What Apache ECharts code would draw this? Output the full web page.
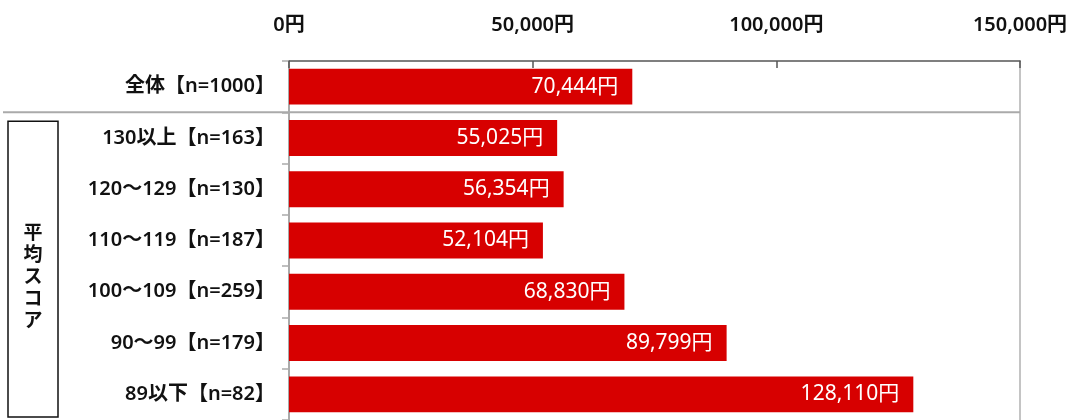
<!DOCTYPE html>
<html>
<head>
<meta charset="utf-8">
<script src="https://cdn.jsdelivr.net/npm/echarts@6/dist/echarts.min.js"></script>
<style>
html,body{margin:0;padding:0;background:#fff;}
#chart{width:1071px;height:420px;}
</style>
</head>
<body>
<div id="chart"></div>
<script>
const categories = ['全体【n=1000】','130以上【n=163】','120～129【n=130】','110～119【n=187】','100～109【n=259】','90～99【n=179】','89以下【n=82】'];
const values = [70444, 55025, 56354, 52104, 68830, 89799, 128110];
const groupLabel = '平均スコア';
const axisMax = 150000;
const axisStep = 50000;

const FONT = '"Noto Sans", "Noto Sans CJK JP", sans-serif';
const CJK = '"Noto Sans CJK JP", sans-serif';
const fmt = v => Number(v).toLocaleString('en-US') + '円';

const chart = echarts.init(document.getElementById('chart'));
chart.setOption({
  animation: false,
  grid: {left: 289, right: 51, top: 61, bottom: 0, containLabel: false},
  xAxis: {
    type: 'value', position: 'top', min: 0, max: axisMax, interval: axisStep,
    axisLine: {show: true, lineStyle: {color: '#555', width: 1.5}},
    axisTick: {show: true, inside: true, length: 7, lineStyle: {color: '#555', width: 1.5}},
    splitLine: {show: false},
    axisLabel: {formatter: fmt, margin: 26, color: '#111', fontSize: 20, fontWeight: 600, fontFamily: FONT}
  },
  yAxis: [{
    type: 'category', inverse: true, data: categories,
    axisLine: {show: true, lineStyle: {color: '#aaa', width: 2}},
    axisTick: {show: true, inside: false, length: 7, lineStyle: {color: '#aaa', width: 1.5}},
    axisLabel: {margin: 14, color: '#111', fontSize: 20, fontWeight: 600, fontFamily: FONT}
  }, {
    type: 'category', inverse: true, data: categories, position: 'right',
    axisLine: {show: true, lineStyle: {color: '#c4c4c4', width: 2}},
    axisTick: {show: false}, axisLabel: {show: false}
  }],
  series: [{
    type: 'bar', data: values, barCategoryGap: '30%',
    itemStyle: {color: '#d70000'},
    label: {show: true, position: 'insideRight', distance: 14, formatter: p => fmt(p.value),
      color: '#fff', fontSize: 21, fontFamily: FONT}
  }]
});

const yTop0 = chart.convertToPixel({yAxisIndex: 0}, 0);
const y1 = chart.convertToPixel({yAxisIndex: 0}, 1);
const band = y1 - yTop0;
const sepY = (yTop0 + y1) / 2;
const rightX = chart.convertToPixel({xAxisIndex: 0}, axisMax);
const lastY = chart.convertToPixel({yAxisIndex: 0}, categories.length - 1);
const boxTop = sepY + 9;
const boxBottom = lastY + band / 2 - 3;
chart.setOption({
  graphic: [
    {type: 'line', shape: {x1: 3, y1: sepY, x2: rightX, y2: sepY}, style: {stroke: '#aaa', lineWidth: 2}, z: 10},
    {type: 'rect', shape: {x: 8, y: boxTop, width: 50, height: boxBottom - boxTop}, style: {fill: 'none', stroke: '#111', lineWidth: 1.5}},
    {type: 'text', x: 33, y: (boxTop + boxBottom) / 2 + 7, style: {
      text: groupLabel.split('').join('\n'), fill: '#111', font: 'bold 19px ' + CJK,
      align: 'center', verticalAlign: 'middle', lineHeight: 22}}
  ]
});
</script>
</body>
</html>
